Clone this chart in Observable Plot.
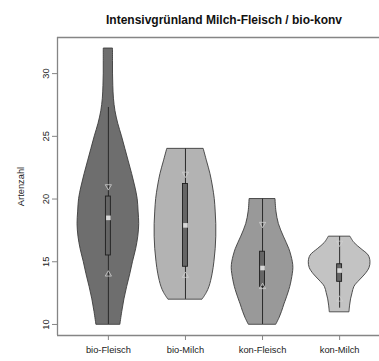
<!DOCTYPE html>
<html>
<head>
<meta charset="utf-8">
<script src="https://cdn.jsdelivr.net/npm/d3@7"></script>
<script src="https://cdn.jsdelivr.net/npm/@observablehq/plot@0.6"></script>
<style>
html,body{margin:0;padding:0;background:#fff;overflow:hidden;}
#chart svg{overflow:hidden;display:block;}
</style>
</head>
<body>
<div id="chart"></div>
<script>
const title = "Intensivgrünland Milch-Fleisch / bio-konv";
const yLabel = "Artenzahl";
const categories = ["bio-Fleisch", "bio-Milch", "kon-Fleisch", "kon-Milch"];
const yTicks = [10, 15, 20, 25, 30];

// violin outlines: values and relative density
const bioFleischY = [10, 11, 12, 13, 14, 15, 16, 17, 18, 19, 20, 21, 22, 23, 24, 25, 26, 27, 28, 29, 30, 31, 32];
const bioFleischD = [0.39, 0.45, 0.52, 0.61, 0.71, 0.80, 0.90, 0.97, 1.0, 0.98, 0.95, 0.87, 0.77, 0.66, 0.55, 0.44, 0.32, 0.23, 0.18, 0.16, 0.15, 0.15, 0.15];
const bioMilchY = [12, 12.5, 13, 14, 15, 16, 17, 18, 19, 20, 21, 22, 23, 24];
const bioMilchD = [0.56, 0.69, 0.78, 0.88, 0.94, 0.98, 1.0, 1.0, 0.98, 0.95, 0.89, 0.81, 0.70, 0.59];
const konFleischY = [10, 10.5, 11, 11.6, 12, 13, 14, 14.5, 15, 16, 17, 18, 19, 20];
const konFleischD = [0.45, 0.55, 0.63, 0.71, 0.77, 0.90, 0.98, 1.0, 0.98, 0.87, 0.69, 0.53, 0.45, 0.42];
const konMilchY = [11, 11.5, 12, 12.5, 13, 13.5, 14, 14.5, 15, 15.5, 16, 16.5, 17];
const konMilchD = [0.32, 0.34, 0.37, 0.42, 0.48, 0.65, 0.84, 0.97, 1.0, 0.94, 0.71, 0.48, 0.35];

// box statistics
const whiskerLow = [10, 12, 10, 11.3];
const q1 = [15.5, 14.6, 13, 13.4];
const median = [18.5, 17.9, 14.5, 14.3];
const q3 = [20.2, 21.2, 15.8, 14.8];
const whiskerHigh = [27.3, 24, 20, 17];
const upperMark = [21, 22, 18, 16.5];
const lowerMark = [14, 13.9, 13, 12];

const fills = ["#6e6e6e", "#b3b3b3", "#999999", "#c3c3c3"];
const halfWidth = 0.4;
const boxHalf = 0.032;

const profiles = [[bioFleischY, bioFleischD], [bioMilchY, bioMilchD], [konFleischY, konFleischD], [konMilchY, konMilchD]];
const violin = profiles.flatMap(([ys, ds], i) => ys.map((y, j) => ({cat: categories[i], pos: i + 1, y, d: ds[j]})));
const stats = categories.map((cat, i) => ({
  cat, pos: i + 1, lo: whiskerLow[i], q1: q1[i], med: median[i], q3: q3[i], hi: whiskerHigh[i],
  up: upperMark[i], down: lowerMark[i]
}));

const xDom = [0.34, 4.66];
const yDom = [9.12, 32.88];

const plot = Plot.plot({
  width: 379,
  height: 361,
  marginLeft: 57,
  marginRight: 0,
  marginTop: 37,
  marginBottom: 26,
  style: {fontFamily: "'Liberation Sans', Arial, sans-serif", fontSize: "9.3px", color: "#222", background: "#fff"},
  x: {domain: xDom, range: [57, 390]},
  y: {domain: yDom, range: [335, 37]},
  color: {domain: categories, range: fills},
  marks: [
    Plot.areaX(violin, {
      y: "y", x1: d => d.pos - d.d * halfWidth, x2: d => d.pos + d.d * halfWidth,
      z: "cat", fill: "cat", stroke: "#3c3c3c", strokeWidth: 0.9, curve: "catmull-rom"
    }),
    Plot.ruleX(stats, {x: "pos", y1: "lo", y2: "hi", stroke: "#2a2a2a", strokeWidth: 1}),
    Plot.rect(stats, {x1: d => d.pos - boxHalf, x2: d => d.pos + boxHalf, y1: "q1", y2: "q3", fill: "#666", stroke: "#1e1e1e", strokeWidth: 0.9}),
    Plot.dot(stats, {x: "pos", y: "med", symbol: "square", r: 2.6, fill: "#d8d8d8", stroke: "none"}),
    Plot.dot(stats, {x: "pos", y: "up", symbol: "triangle", rotate: 180, r: 2.3, stroke: "#cfcfcf", strokeWidth: 0.8, fill: "none"}),
    Plot.dot(stats, {x: "pos", y: "down", symbol: "triangle", r: 2.3, stroke: "#cfcfcf", strokeWidth: 0.8, fill: "none"}),
    Plot.ruleY([yDom[1], yDom[0]], {x1: xDom[0], x2: xDom[1], stroke: "#858585", strokeWidth: 1.3}),
    Plot.ruleX([xDom[0]], {y1: yDom[0], y2: yDom[1], stroke: "#858585", strokeWidth: 1.3}),
    Plot.axisY({ticks: yTicks, tickSize: 5, tickPadding: 4, tickRotate: -90, stroke: "#858585",
      label: yLabel, labelAnchor: "center", labelOffset: 40, labelArrow: false}),
    Plot.axisX({ticks: [1, 2, 3, 4], tickFormat: i => categories[i - 1], tickSize: 5, tickPadding: 6, stroke: "#858585", label: null}),
    Plot.text([title], {x: (xDom[0] + xDom[1]) / 2, frameAnchor: "top", dy: -22, fontWeight: "bold", fontSize: 12, fill: "#111"})
  ]
});
document.getElementById("chart").append(plot);
</script>
</body>
</html>
